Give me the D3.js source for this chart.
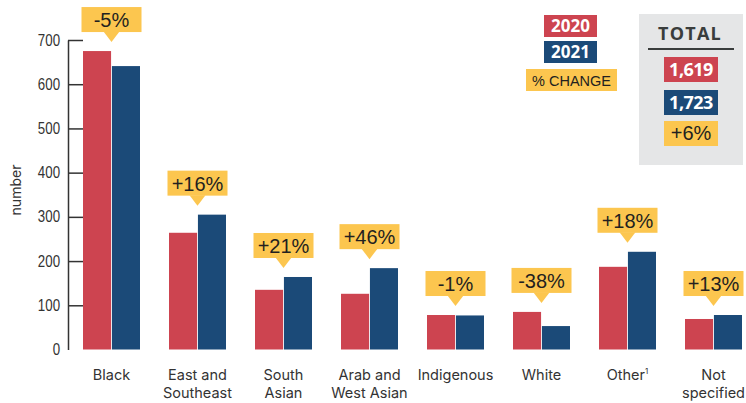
<!DOCTYPE html>
<html>
<head>
<meta charset="utf-8">
<script src="https://cdn.jsdelivr.net/npm/d3@7"></script>
<style>
  body { margin: 0; background: #fff; }
  svg { display: block; }
</style>
</head>
<body>
<svg id="chart" width="746" height="403"></svg>
<script>
// data
var categories = ["Black", "East and Southeast", "South Asian", "Arab and West Asian",
                  "Indigenous", "White", "Other", "Not specified"];
var categoryLines = [["Black"], ["East and", "Southeast"], ["South", "Asian"], ["Arab and", "West Asian"],
                     ["Indigenous"], ["White"], ["Other"], ["Not", "specified"]];
var years = ["2020", "2021"];
var values2020 = [675, 264, 135, 126, 78, 85, 187, 69];
var values2021 = [641, 305, 164, 184, 77, 53, 221, 78];
var changeLabels = ["-5%", "+16%", "+21%", "+46%", "-1%", "-38%", "+18%", "+13%"];
var yTicks = [0, 100, 200, 300, 400, 500, 600, 700];
var totalLabels = ["1,619", "1,723", "+6%"];

var red = "#cd4450", blue = "#1b4a78", yellow = "#fcc64f", ink = "#231f20";

var svg = d3.select("#chart");

var y = d3.scaleLinear().domain([0, 700]).range([349.5, 40]);
var x0 = d3.scaleBand().domain(categories).range([68.5, 68.5 + 86 * categories.length]);
var x1 = d3.scaleBand().domain(years).range([14.5, 71.5]).paddingInner(0.03);
var color = d3.scaleOrdinal().domain(years).range([red, blue]);

// y axis, ticks pointing into the plot
var yAxis = svg.append("g")
    .attr("transform", "translate(68,0)")
    .call(d3.axisLeft(y).tickValues(yTicks).tickSizeInner(-15).tickSizeOuter(0).tickPadding(8));
yAxis.select(".domain").attr("stroke", "#333").attr("stroke-width", 1.5);
yAxis.selectAll(".tick line").attr("stroke", "#333").attr("stroke-width", 1.5)
    .filter(function(d) { return d === 0; }).remove();
// narrow look for the tick numbers
var squeeze = 0.83;
yAxis.selectAll(".tick text")
    .style("font-family", "'Liberation Sans', Arial, sans-serif")
    .style("font-size", "16px")
    .attr("fill", "#333")
    .attr("x", -8 / squeeze)
    .attr("transform", "scale(" + squeeze + ",1)");

svg.append("text")
    .attr("transform", "translate(21,190) rotate(-90)")
    .attr("text-anchor", "middle")
    .style("font-family", "Inter, sans-serif")
    .style("font-size", "14px")
    .attr("fill", "#333")
    .text("number");

// bars
var groups = svg.selectAll(".grp")
  .data(categories)
  .enter().append("g")
    .attr("class", "grp")
    .attr("transform", function(d) { return "translate(" + x0(d) + ",0)"; });

groups.selectAll("rect")
  .data(function(d, i) {
    return [{ year: "2020", v: values2020[i] }, { year: "2021", v: values2021[i] }];
  })
  .enter().append("rect")
    .attr("x", function(d) { return x1(d.year); })
    .attr("width", x1.bandwidth())
    .attr("y", function(d) { return y(d.v); })
    .attr("height", function(d) { return y(0) - y(d.v); })
    .attr("fill", function(d) { return color(d.year); });

// % change callouts
groups.each(function(d, i) {
  var g = d3.select(this);
  var cx = x0.bandwidth() / 2;
  var top = y(Math.max(values2020[i], values2021[i]));
  g.append("rect")
    .attr("x", cx - 30).attr("y", top - 44)
    .attr("width", 60).attr("height", 25)
    .attr("fill", yellow);
  g.append("path")
    .attr("d", "M" + (cx - 8) + "," + (top - 19.5) + "L" + (cx + 8) + "," + (top - 19.5) + "L" + cx + "," + (top - 9) + "Z")
    .attr("fill", yellow);
  g.append("text")
    .attr("x", cx).attr("y", top - 24)
    .attr("text-anchor", "middle")
    .style("font-family", "'Liberation Sans', Arial, sans-serif")
    .style("font-size", "20px")
    .attr("fill", ink)
    .text(changeLabels[i]);
});

// category labels, one text per line
groups.each(function(d, i) {
  var g = d3.select(this);
  categoryLines[i].forEach(function(line, k) {
    var t = g.append("text")
      .attr("x", x0.bandwidth() / 2)
      .attr("y", 380 + k * 18)
      .attr("text-anchor", "middle")
      .style("font-family", "Inter, sans-serif")
      .style("font-size", "14.5px")
      .attr("fill", "#333")
      .text(line);
    if (d === "Other") {
      t.append("tspan").attr("dy", -6).style("font-size", "8px").text("1");
    }
  });
});

// legend
var legend = [
  { label: "2020", fill: red, x: 544, y: 15, w: 53, txt: "#fff", bold: true },
  { label: "2021", fill: blue, x: 544, y: 41, w: 53, txt: "#fff", bold: true },
  { label: "% CHANGE", fill: yellow, x: 526, y: 69, w: 91, txt: ink, bold: false }
];
legend.forEach(function(l) {
  svg.append("rect").attr("x", l.x).attr("y", l.y).attr("width", l.w).attr("height", 22).attr("fill", l.fill);
  svg.append("text")
    .attr("x", l.x + l.w / 2).attr("y", l.y + 17)
    .attr("text-anchor", "middle")
    .style("font-family", l.bold ? "'Open Sans', sans-serif" : "'Liberation Sans', Arial, sans-serif")
    .style("font-weight", l.bold ? 700 : 400)
    .style("font-size", l.bold ? "17px" : "14.5px")
    .attr("fill", l.txt)
    .text(l.label);
});

// total panel
svg.append("rect").attr("x", 639).attr("y", 14).attr("width", 104).attr("height", 151).attr("fill", "#e5e6e7");
svg.append("text")
  .attr("x", 690).attr("y", 40)
  .attr("text-anchor", "middle")
  .style("font-family", "'Open Sans', sans-serif")
  .style("font-weight", 700)
  .style("font-size", "18px")
  .style("letter-spacing", "1.2px")
  .attr("fill", "#3a3d3c")
  .text("TOTAL");
svg.append("line").attr("x1", 648).attr("x2", 734).attr("y1", 49).attr("y2", 49)
  .attr("stroke", "#3a3d3c").attr("stroke-width", 2);

var totalFills = [red, blue, yellow];
var totalTop = [57, 90, 121];
totalLabels.forEach(function(t, i) {
  svg.append("rect").attr("x", 664).attr("y", totalTop[i]).attr("width", 54).attr("height", 25).attr("fill", totalFills[i]);
  svg.append("text")
    .attr("x", 691).attr("y", totalTop[i] + 19)
    .attr("text-anchor", "middle")
    .style("font-family", i < 2 ? "'Open Sans', sans-serif" : "'Liberation Sans', Arial, sans-serif")
    .style("font-weight", i < 2 ? 700 : 400)
    .style("font-size", i < 2 ? "18px" : "20px")
    .style("letter-spacing", i < 2 ? "-0.5px" : "0px")
    .attr("fill", i < 2 ? "#fff" : ink)
    .text(t);
});
</script>
</body>
</html>
